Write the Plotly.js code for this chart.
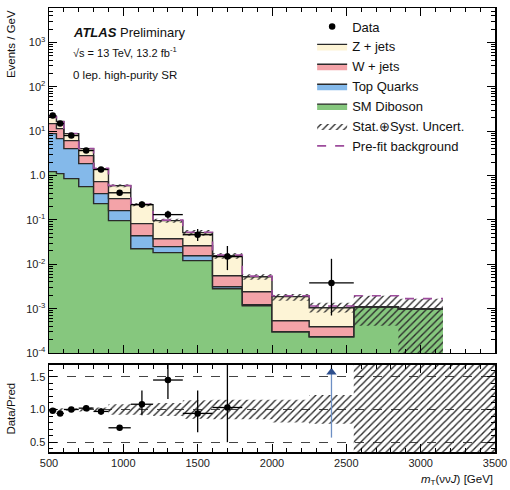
<!DOCTYPE html>
<html><head><meta charset="utf-8">
<script src="https://cdn.plot.ly/plotly-3.0.1.min.js"></script>
<style>html,body{margin:0;padding:0;background:#fff}#chart{width:510px;height:490px}</style>
</head><body><div id="chart"></div>
<script>
// ---- data (Events / GeV) ----
const binEdges = [500,550,600,700,800,900,1050,1200,1400,1600,1800,2000,2250,2550,2850,3150];
const smDiboson = [1.23,1.11,0.855,0.565,0.233,0.0964,0.0225,0.0183,0.0121,0.00281,0.00116,0.000301,0.000232,0.0011,0.000995];
const topQuarks = [7.64,5.73,3.2,1.3,0.16,0.0656,0.0217,0.0067,0.0035,0.00031,0.00006,0,0,0,0];
const wJets = [6.03,4.66,2.1,0.96,0.339,0.141,0.0383,0.0128,0.0107,0.00241,0.00119,0.000232,0.000158,0,0];
const zJets = [6.6,5.1,2.7,1.24,0.708,0.292,0.1395,0.0586,0.0254,0.01007,0.00284,0.00133,0.00066,0,0];
const uncUpper = [22.2,17.1,9.1,4.2,1.49,0.64,0.24,0.106,0.059,0.018,0.006,0.00215,0.00135,0.00196,0.00167];
const uncLower = [20.8,16.1,8.6,3.93,1.39,0.55,0.204,0.087,0.044,0.0133,0.0045,0.0015,0.00082,0.00041,0.00001];
const preFit = [21.0,16.3,8.9,4.1,1.47,0.60,0.226,0.099,0.053,0.0162,0.0054,0.00195,0.00115,0.00195,0.00168];
const dataVals = [22.6,14.9,8.0,3.67,1.37,0.41,0.222,0.132,0.0465,0.0149,null,null,0.0038,null,null];
const dataErrUp = [0.7,0.55,0.3,0.12,0.08,0.05,0.04,0.03,0.016,0.011,null,null,0.0095,null,null];
const dataErrDn = [0.7,0.55,0.3,0.12,0.08,0.05,0.036,0.025,0.013,0.0075,null,null,0.0031,null,null];
// ratio panel
const ratioVals = [0.98,0.94,1.0,1.02,0.97,0.72,1.08,1.45,0.94,1.03];
const ratioErrUp = [0.03,0.03,0.03,0.04,0.05,0.04,0.21,0.3,0.35,0.66];
const ratioErrDn = [0.03,0.03,0.03,0.04,0.05,0.04,0.17,0.29,0.29,0.53];
const ratioBandEdges = [500,550,600,700,800,900,1050,1200,1400,1600,1800,2000,2250,2550,2850,3150,3500];
const ratioBandUp = [1.02,1.02,1.02,1.03,1.03,1.08,1.08,1.1,1.14,1.15,1.15,1.15,1.22,1.9,1.9,1.9];
const ratioBandDn = [0.98,0.98,0.98,0.97,0.97,0.92,0.92,0.9,0.86,0.85,0.85,0.8,0.78,0.2,0.2,0.2];
const arrowX = [2400];
const arrowY = [1.57];
const arrowErrDn = [1.0];
const arrowErrUp = [0.2];
const yTickVals = [1e-4,1e-3,1e-2,1e-1,1,10,100,1000];
const yTickText = ['10<sup>-4</sup>','10<sup>-3</sup>','10<sup>-2</sup>','10<sup>-1</sup>','1.0','10<sup>1</sup>','10<sup>2</sup>','10<sup>3</sup>'];

// ---- helpers ----
const stepY = v => v.concat([v[v.length-1]]);
const centers = binEdges.slice(0,-1).map((e,i)=>(e+binEdges[i+1])/2);
const halfW = binEdges.slice(0,-1).map((e,i)=>(binEdges[i+1]-e)/2);
const cumD = smDiboson.slice();
const cumT = cumD.map((v,i)=>v+topQuarks[i]);
const cumW = cumT.map((v,i)=>v+wJets[i]);
const cumZ = cumW.map((v,i)=>v+zJets[i]);
const floorV = binEdges.map(()=>1e-7);
const edgeLine = '#2a2a2a';

const minorLog = [];
for (let p=-4;p<=3;p++) for (let m=2;m<=9;m++) minorLog.push(m*Math.pow(10,p));

function layer(y, name, color, rank){
  return {x: binEdges, y: stepY(y), type:'scatter', mode:'lines', line:{shape:'hv', color:edgeLine, width:1.4},
    fill:'tonexty', fillcolor:color, name:name, legendrank:rank, hoverinfo:'skip', xaxis:'x', yaxis:'y'};
}
const hatch = {shape:'/', fgcolor:'#2a2a2a', bgcolor:'rgba(0,0,0,0)', size:5, solidity:0.27};

const traces = [
  {x: binEdges, y: floorV, type:'scatter', mode:'lines', line:{width:0, shape:'hv'}, showlegend:false, hoverinfo:'skip'},
  layer(cumD, 'SM Diboson', '#86c77e', 5),
  layer(cumT, 'Top Quarks', '#84b9ea', 4),
  layer(cumW, 'W + jets', '#f3a3a8', 3),
  layer(cumZ, 'Z + jets', '#fdf4d6', 2),
  {x: binEdges, y: stepY(uncLower), type:'scatter', mode:'lines', line:{width:0, shape:'hv'}, showlegend:false, hoverinfo:'skip'},
  {x: binEdges, y: stepY(uncUpper), type:'scatter', mode:'lines', line:{width:0, shape:'hv'}, fill:'tonexty',
    fillcolor:'rgba(0,0,0,0)', fillpattern:hatch,
    name:'Stat.\u2295Syst. Uncert.', legendrank:6, hoverinfo:'skip'},
  {x: binEdges, y: stepY(preFit), type:'scatter', mode:'lines', line:{shape:'hv', color:'#9d4c9c', width:1.6, dash:'dash'},
    name:'Pre-fit background', legendrank:7, hoverinfo:'skip'},
  {x: centers, y: dataVals, type:'scatter', mode:'markers', marker:{color:'#000', size:6.5},
    error_x:{type:'data', array:halfW, color:'#000', thickness:1.3, width:0},
    error_y:{type:'data', array:dataErrUp, arrayminus:dataErrDn, symmetric:false, color:'#000', thickness:1.3, width:0},
    name:'Data', legendrank:1},
  // ratio
  {x: ratioBandEdges, y: stepY(ratioBandDn), xaxis:'x2', yaxis:'y2', type:'scatter', mode:'lines', line:{width:0, shape:'hv'}, showlegend:false, hoverinfo:'skip'},
  {x: ratioBandEdges, y: stepY(ratioBandUp), xaxis:'x2', yaxis:'y2', type:'scatter', mode:'lines', line:{width:0, shape:'hv'}, fill:'tonexty',
    fillcolor:'rgba(0,0,0,0)', fillpattern:hatch, showlegend:false, hoverinfo:'skip'},
  {x: centers.slice(0, ratioVals.length), y: ratioVals, xaxis:'x2', yaxis:'y2', type:'scatter', mode:'markers', marker:{color:'#000', size:6.5},
    error_x:{type:'data', array:halfW.slice(0, ratioVals.length), color:'#000', thickness:1.3, width:0},
    error_y:{type:'data', array:ratioErrUp, arrayminus:ratioErrDn, symmetric:false, color:'#000', thickness:1.3, width:0}, showlegend:false},
  {x: arrowX, y: arrowY, xaxis:'x2', yaxis:'y2', type:'scatter', mode:'markers', marker:{symbol:'triangle-up', color:'#2d4f8e', size:9},
    error_y:{type:'data', array:arrowErrUp, arrayminus:arrowErrDn, symmetric:false, color:'#6d8fc4', thickness:1.3, width:0}, showlegend:false}
];

const axFont = {family:'Liberation Sans, Arial, sans-serif', size:11, color:'#222'};
const layout = {
  width:510, height:490,
  margin:{l:49, r:15, t:8, b:38},
  paper_bgcolor:'#fff', plot_bgcolor:'#fff',
  font:{family:'Liberation Sans, Arial, sans-serif', color:'#111'},
  showlegend:true,
  legend:{x:0.59, y:0.992, xanchor:'left', yanchor:'top', bgcolor:'rgba(0,0,0,0)', borderwidth:0,
    font:{family:'Liberation Sans, Arial, sans-serif', size:13, color:'#111'}, traceorder:'normal'},
  xaxis:{domain:[0,1], anchor:'y', range:[500,3500], showticklabels:false, ticks:'inside', ticklen:8, tickwidth:1, tickcolor:'#000',
    dtick:500, tick0:500, showline:true, linecolor:'#000', linewidth:1.5, mirror:'allticks', showgrid:false, zeroline:false,
    minor:{dtick:100, ticks:'inside', ticklen:4, tickcolor:'#000'}},
  yaxis:{domain:[0.223,1], anchor:'x', type:'log', range:[-4,3.78], tickmode:'array', tickvals:yTickVals, ticktext:yTickText,
    tickfont:axFont, ticks:'inside', ticklen:8, tickcolor:'#000', showline:true, linecolor:'#000', linewidth:1.5, mirror:'allticks',
    showgrid:false, zeroline:false, minor:{tickmode:'array', tickvals:minorLog, ticks:'inside', ticklen:4, tickcolor:'#000'}},
  xaxis2:{domain:[0,1], anchor:'y2', matches:'x', range:[500,3500], tickfont:axFont, ticks:'inside', ticklen:8, tickcolor:'#000',
    dtick:500, tick0:500, showline:true, linecolor:'#000', linewidth:1.5, mirror:'allticks', showgrid:false, zeroline:false,
    minor:{dtick:100, ticks:'inside', ticklen:4, tickcolor:'#000'}},
  yaxis2:{domain:[0,0.196], anchor:'x2', range:[0.35,1.68], tickmode:'array', tickvals:[0.5,1.0,1.5], ticktext:['0.5','1.0','1.5'],
    tickfont:axFont, ticks:'inside', ticklen:8, tickcolor:'#000', showline:true, linecolor:'#000', linewidth:1.5, mirror:'allticks',
    showgrid:true, gridcolor:'#444', gridwidth:1, griddash:'dash', zeroline:false,
    minor:{dtick:0.1, tick0:0, ticks:'inside', ticklen:4, tickcolor:'#000'}},
  annotations:[
    {xref:'paper', yref:'paper', x:0.05, y:0.945, xanchor:'left', yanchor:'middle', showarrow:false,
     text:'<b><i>ATLAS</i></b> Preliminary', font:{size:13, color:'#111'}},
    {xref:'paper', yref:'paper', x:0.05, y:0.9, xanchor:'left', yanchor:'middle', showarrow:false,
     text:'\u221As = 13 TeV, 13.2 fb<sup>-1</sup>', font:{size:11, color:'#111'}},
    {xref:'paper', yref:'paper', x:0.05, y:0.85, xanchor:'left', yanchor:'middle', showarrow:false,
     text:'0 lep. high-purity SR', font:{size:11.5, color:'#111'}},
    {xref:'paper', yref:'paper', x:-0.085, y:1, xanchor:'center', yanchor:'top', showarrow:false, textangle:-90,
     text:'Events / GeV', font:{size:11.5, color:'#111'}},
    {xref:'paper', yref:'paper', x:-0.085, y:0.098, xanchor:'center', yanchor:'middle', showarrow:false, textangle:-90,
     text:'Data/Pred', font:{size:11.5, color:'#111'}},
    {xref:'paper', yref:'paper', x:1, y:-0.063, xanchor:'right', yanchor:'middle', showarrow:false,
     text:'<i>m</i><sub>T</sub>(\u03BD\u03BD<i>J</i>) [GeV]', font:{size:11.5, color:'#111'}}
  ]
};
Plotly.newPlot('chart', traces, layout, {staticPlot:true, displayModeBar:false});
</script></body></html>
